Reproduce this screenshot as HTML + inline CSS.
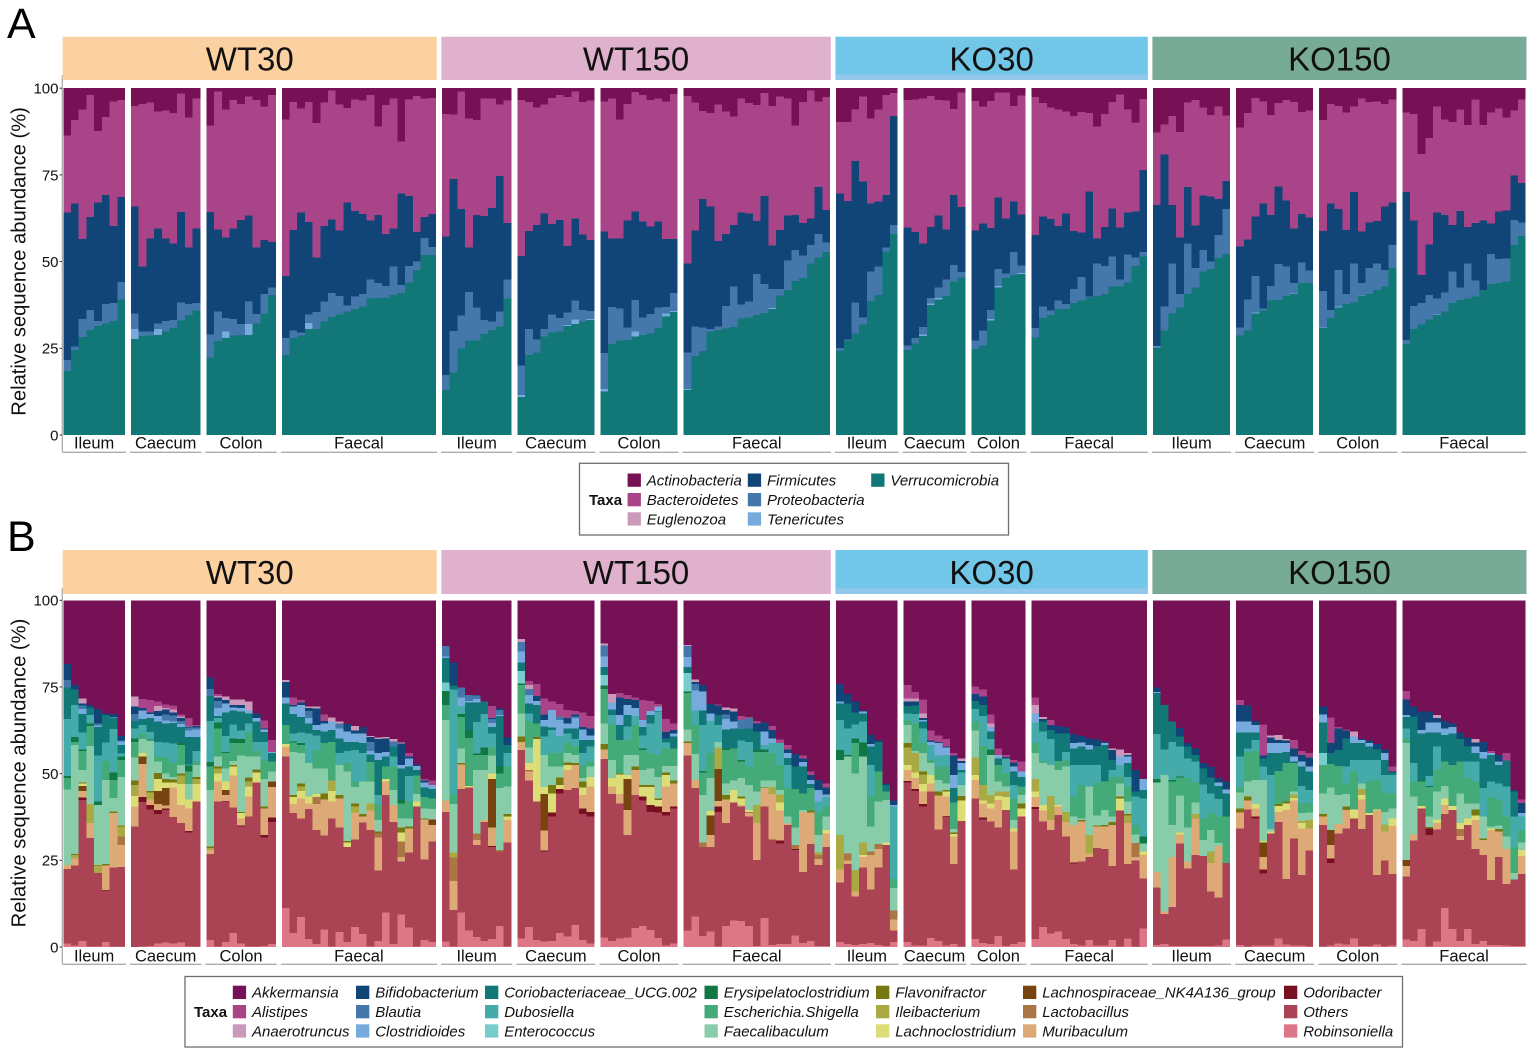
<!DOCTYPE html>
<html lang="en">
<head>
<meta charset="utf-8">
<title>Relative sequence abundance by group and tissue</title>
<style>
html,body{margin:0;padding:0;background:#fff;}
svg{display:block;font-family:"Liberation Sans",Arial,sans-serif;}
</style>
</head>
<body>
<svg id="figure" xmlns="http://www.w3.org/2000/svg" width="1535" height="1055" viewBox="0 0 1535 1055"></svg>
<script>
/* ---------- categories and tick labels ---------- */
const conditionNames = ['WT30','WT150','KO30','KO150'];
const conditionColors = ['#FCD1A2','#E0B1CC','#72C6E8','#78AB95'];
const tissueNames = ['Ileum','Caecum','Colon','Faecal'];
const samplesPerFacet = [8,9,9,20, 9,10,10,19, 8,8,7,15, 10,10,10,16];
const yTickValues = [0,25,50,75,100];
const yTickLabels = ['0','25','50','75','100'];

/* Every series array holds, for each of the 178 samples left to right,
   the upper edge (%) of that taxon's stacked band; 0 means the taxon is absent.
   The topmost taxon of each panel fills the remainder up to 100 %. */

/* ---------- panel A: phyla ---------- */
const verrucomicrobiaA = [
18.4,24.5,28.3,30.3,31.5,32.1,32.9,39.1,
27.7,28.5,28.7,28.9,29.8,30.8,33,34.6,35.9,
22.3,27.1,27.9,28.7,28.8,28.8,32.2,34.9,40.4,
23.1,27.9,28.7,30.5,30.5,32.7,34,34.8,35.6,36.3,37,39.3,39.5,39.7,40.4,41,44,47.6,51.9,51.9,
13,18,24.9,27.3,27.3,29.1,30.3,31.3,39.4,
11,23.1,23.8,28.4,29.5,29.8,31.4,32,32.7,33.2,
12.5,26.3,27.2,27.4,28.4,28.8,29.3,30.8,34.1,35.4,
13,22.8,24.2,29.8,30.3,30.7,31.1,33.6,33.9,34.6,35.2,36.3,40.2,41.8,44.4,45.2,49.5,51.2,52.8,
24.2,27.2,29.3,31.9,38.7,40.4,52.9,58,
24.5,26.4,28.6,37.5,39.1,40.1,44.2,45.4,
24.8,25.8,33,42.6,45.2,46.2,46.4,
28.1,33.7,34.6,36.3,36.3,38,38.8,39.6,40.1,40.7,42.8,42.8,44,48.8,51.4,
25.3,30.1,35.1,36.7,40.6,42.5,47.1,47.8,51,52.2,
28.7,30.1,35.1,35.9,38.8,38.9,40.1,40.6,43.8,43.9,
30.8,33.7,36.7,37.8,38.2,40.2,40.7,41.8,42.8,48.1,
26.2,30.6,31.9,33.3,34.6,35.6,38,38.9,39.4,39.9,41.8,43.6,43.9,44.2,54.8,57.4];
const tenericutesA = [
0,0,0,0,0,0,0,0,
30.6,0,0,30.5,0,0,0,0,0,
0,0,29.9,0,0,32,0,0,0,
0,0,0,32.3,0,0,0,0,0,0,0,0,0,0,0,0,0,0,0,0,
0,0,0,0,0,0,0,0,0,
11.5,0,0,0,0,0,31.7,33.3,0,33.5,
13.2,0,0,0,29.8,0,0,0,35.1,35.8,
13.3,0,0,0,0,0,0,0,0,0,0,36.6,0,0,0,0,0,0,0,
0,0,0,0,0,0,0,0,
0,0,29,37.9,39.5,0,0,0,
0,0,33.5,43,0,0,46.7,
0,0,0,0,0,0,0,0,0,0,0,0,0,0,0,
25.5,0,0,0,0,0,0,0,0,0,
0,0,35.3,0,0,0,0,40.8,0,0,
31,0,37,0,0,40.4,0,0,0,0,
0,0,0,0,34.8,0,0,0,0,0,0,0,0,0,0,0];
const proteobacteriaA = [
21.6,25.5,33.5,36,32.8,37.8,38,44.1,
35.1,29.8,29.8,32.2,32.9,33.2,38.2,37.8,38,
29,35.6,33.7,33.4,32,38.5,34.9,40.7,42.6,
27.9,30.1,29.6,34.8,35.4,38.5,40.9,40.1,37.3,39.9,40.7,44.9,43.9,43,48.6,43.3,48.8,50,56.8,54.2,
17.3,30,34.4,41.3,36.7,33.2,32.7,35.6,44.9,
20.1,30.6,27.6,30.5,34.8,33.7,35.3,38.8,36.1,35.8,
23.7,36.9,36.5,31,38.9,33.9,34.9,36.8,36.9,40.9,
23.8,31.3,31,30.5,31.3,37.2,42.8,37.6,38.5,46.4,43.6,42.1,42.1,50.3,53.4,51.8,54.8,57.9,55.5,
25.1,27.6,38.2,33.9,47.1,48.6,54,60.6,
25.8,27.9,31.2,39.5,42.6,44.9,49,47,
27.2,30.2,36,47.8,46.6,52.7,48.9,
30.8,37,35.9,38.8,37.8,42.1,45.5,39.9,49.5,48.8,51.4,44.9,52.1,51.2,52.7,
25.7,37,49.5,40.7,55.2,48.2,53.4,50,57.7,65.1,
31,39,45.9,36.5,43,49.3,48.6,43.8,49.8,47.4,
41.5,36.1,47.6,40.7,49.5,43.8,48.1,49.5,47.6,54.8,
27.4,37.2,38,40.4,39.4,41.1,47.1,42.6,49.5,44.5,41.8,52.2,50.7,50.9,62,61.3];
const firmicutesA = [
64.1,66.7,56.5,62.9,67,69.2,60.3,68.6,
65.9,48.6,56.7,59.6,56.7,55.2,64.3,54.1,59.5,
64.3,59.3,57,59.5,62,63.3,54.1,56.3,55.6,
45.9,59.1,64.1,61.4,51.2,60.3,62.2,58.9,67.1,64.6,63.7,61.8,63.4,58,59.5,69.7,68.9,58.6,62.9,63.7,
57.2,73.8,65.2,54.1,63.5,63.1,65.5,74.7,61.1,
51.6,58.8,60.6,63.9,60.9,62,54.5,62.4,57.8,56.3,
58.7,56.7,56.7,61.8,64.5,61.5,60.1,61.5,56.5,56.5,
49.5,58.9,68.1,65.9,55.9,57.9,60.6,64.1,63.9,61.7,68.9,54.7,59.1,63.3,63.5,61.1,62.4,71.5,64.9,
69.7,67.5,79,73.1,66.8,67.3,69.2,92,
59.8,58.5,55.2,60,63.3,59.2,69.2,65.8,
59,61,59.7,68.5,62.4,67.4,63.6,
57.6,63,62.3,60.2,63.9,58.8,58.4,70.2,56.6,60,65.3,59.8,64.2,64.5,76.4,
66.3,80.9,66.3,56.9,71.5,60.4,69,68.8,68,73.2,
54.3,56.4,63,66.8,63.5,71.7,67.6,59.5,63.7,62.7,
58.8,66.8,65.2,59.1,70.1,58.7,61.3,61.7,65.9,67,
70,61.8,46.2,55,64.1,63.5,60.5,64.6,60,61.1,61.9,61,64.5,64.8,74.8,72.6];
const euglenozoaA = [];
const bacteroidetesA = [
86.3,90.9,93.8,98,87.7,91.7,96.2,96.6,
94.9,95.4,95.9,93.3,93.6,92.8,98.5,91.6,97,
89.2,99,93.9,96.6,95.4,97.6,96.6,94.7,98,
91,96,94.1,96,89.9,95.9,99.3,95.3,94.3,96.8,96.4,98,88.9,95.1,97,84.6,96.8,97.8,97,97.2,
92.6,92.4,99,91.3,90.9,97.1,97.1,95.3,96.4,
96.6,96,94.5,95.3,97.2,98.1,97.4,99.1,96,96.4,
96.2,97.1,91,95.4,98.9,98.1,96.6,97.1,96.2,98.3,
97.8,95.9,93.4,92.8,95.3,93.3,91.8,97,95.7,95.2,98.6,94.9,97.6,97.1,89.2,96,99.3,96.2,97.4,
90.2,90.2,93.8,97.6,91.3,93.8,98.1,98.6,
96.6,96.8,97.1,97.8,96.6,96.4,94,98.8,
96.3,94.7,96.3,98.7,98.7,94.9,97.9,
97.4,95.7,94.5,93.9,93.3,92,93.2,92.8,88.9,92.6,96,98.2,93.9,90.1,96.9,
87.2,89.6,92,87.4,95.9,96.6,94.5,92.3,94.7,92.2,
88.6,92.8,97.2,96.1,92.3,95.7,96.6,96,93.1,93.5,
90.9,95.4,94.9,93,94.7,97.1,96,96.2,95.4,96.8,
93,92.5,81,85.6,94.7,91,90.2,93.9,89.4,96.8,89.4,93,94.2,91.5,93.6,96.8];

/* ---------- panel B: genera ---------- */
const robinsoniella = [
1,.5,1.8,.1,.1,1.5,.1,.1,
0,.1,.3,1,1.3,1,1.3,.2,.1,
2,.1,1.4,4,1,.1,.1,.3,.8,
11.2,4.1,8.6,2.3,.9,5.1,.1,4.3,1.5,5.8,3.7,.1,1.7,10,.9,9.4,5.6,.1,2,1.5,
1.6,.1,10,4.8,2.9,1.8,2.3,6.1,.1,
2.5,5.8,2,1.6,1.8,4,3,6.3,2,1,
2.8,1.8,2.5,2.7,5.5,6,4.9,2.6,.4,1,
4.8,8.8,3.2,4.5,.2,6,7.6,7.5,6,.3,8.4,.6,.8,.8,3.3,1.2,1.8,.3,.3,
1.5,.8,.6,.9,1.2,.6,.3,1.5,
1.5,.4,.4,2.6,1.7,.4,.8,.1,
2.3,1.2,.8,3.2,.3,.8,1.5,
2.3,5.8,3.9,4.4,2.3,.8,.4,2,.5,.5,2,.2,2.4,.2,5.4,
.6,.8,.3,.3,.3,.3,.3,.3,.5,2.2,
.6,.2,.5,.5,.5,2.4,.7,.4,.4,.2,
.1,.5,1,.7,2.4,.3,.3,.7,.1,.5,
2.1,1.7,5.2,.1,1.6,11.2,5.2,1.8,5.2,.9,1.8,.6,.6,.4,.3,.3];
const others = [
22.5,23.5,42.4,31.5,21.3,16.3,23,23.1,
34.7,41.8,39.7,38.4,39.5,37.5,35.7,33,42,
26.8,41.9,41.9,40.2,34.8,37.6,47.5,31.6,36,
54.9,38.6,37.1,39.8,33.7,32.1,37.1,34.5,28.8,31,35.9,33.8,22,43.8,36,24.6,27.2,40.5,25.3,30.4,
39,10.7,45.6,46,29.4,36,28.9,27.5,30.2,
56.8,48,41.9,27.5,37.6,44.3,45.3,45.8,38.4,37.6,
54.2,44.1,41.4,32.3,43.8,42.2,39,38.8,37.9,40,
55.2,45.8,28.8,28.8,39,35.7,41.7,40.5,37.6,25.1,40.5,31,29.9,35.2,28,21.7,29.7,23.7,28.9,
18.6,23.9,14.5,22.9,16.6,22.9,29.4,4.7,
47.4,45,40.5,44.8,33.9,37.6,23.9,36.4,
42.9,36.8,36.2,34.5,39.5,22.4,37.6,
39.8,36.2,33.8,38.1,31.8,24.1,24.6,26,28.5,28.2,23.4,39.3,23.9,25,19.8,
17.1,9.5,11.6,29.9,22.7,26.5,26.3,16,14.3,24.3,
34.2,39.7,37.1,21.2,32.8,36,19.6,31.3,20.8,27.8,
35.2,24.3,32.8,34.2,37.1,34,38.1,20.8,24.9,21,
20.3,30.7,40,32.3,33.9,38.4,39.5,30.9,35.2,28.2,26.5,19.3,26,18.2,19.5,21];
const odoribacter = [
0,0,43.1,0,0,16.5,0,0,
0,43.3,41,39.5,40,0,0,33.4,0,
0,0,42.1,0,35,0,0,32.3,37.3,
0,0,0,0,0,0,0,0,0,0,0,0,0,0,0,0,0,0,0,0,
0,0,0,0,0,0,29.2,0,0,
0,0,0,27.8,38.8,45.6,0,0,40,39,
0,0,0,0,0,43.4,41,40.5,39,40.5,
0,0,0,0,40.5,0,0,0,0,0,0,0,30.7,0,28.2,0,0,0,0,
0,0,0,0,0,0,0,0,
47.9,45.6,41.3,0,0,37.8,0,0,
0,37.4,0,0,0,0,0,
40.4,0,0,0,0,24.4,0,0,0,0,0,0,0,0,0,
0,0,0,0,0,0,0,0,0,0,
0,0,37.6,22.4,0,0,0,0,0,0,
0,25.5,0,0,0,0,0,0,0,0,
0,0,0,34.2,0,0,0,0,0,0,0,0,0,0,0,0];
const muribaculum = [
23.7,25.5,45,35.7,0,23.5,38.6,29.4,
40.5,52.8,42.6,41.2,40.8,46,41,40,0,
28,47.7,43.8,49.5,37.1,43.4,0,40,46.2,
57.7,41.3,42.9,41.4,41.3,42.6,41.9,42.9,0,38.8,37.6,39.3,31.6,47.7,41,26,34.2,0,36.8,35.2,
42.2,19.1,52.7,0,30.9,36.6,34.5,0,36.6,
59.2,50.6,0,33.6,0,0,51,52.5,43.8,46.3,
57,46.3,44.1,39.5,51,0,0,0,46.3,47.2,
58.9,48.2,0,32.3,42.1,42.6,0,41,38.6,35.7,45.8,44.1,39.3,35.6,0,39,38.8,25.4,32.8,
22.4,25,16,26,26.5,28.2,0,8,
51,48.7,44.8,47.2,43.7,43.4,31.8,0,
48.2,41.4,40,42.4,0,33.3,0,
43.2,39.3,36.6,40.5,36,35.2,36.2,27,34.7,34.7,35.2,0,35.7,26,26.5,
21.7,10.2,26,32.5,24.6,37.1,0,24.3,29.1,0,
38.8,42.2,40,26,0,39,39.5,42.2,34.2,34.2,
37.6,29.4,35.5,39.5,0,42.6,0,39.3,33.3,34.9,
23.4,32.5,0,0,35.7,41,0,32,0,36.6,30.9,33.7,33.3,28.3,0,26.3];
const lactobacillus = [
0,0,0,0,0,0,0,31.8,
0,0,0,0,0,0,0,0,0,
0,0,0,0,0,0,0,0,0,
0,0,0,0,43.2,0,0,0,0,0,0,0,32.8,0,0,30.4,0,0,0,0,
0,25.8,0,0,32.8,0,0,28,0,
0,51,0,0,0,0,0,0,0,0,
0,0,0,0,0,0,0,0,0,0,
0,0,30.1,0,0,0,0,0,39,0,0,0,0,0,29.4,0,0,26.5,0,
0,27,0,0,27.5,29.7,0,10.5,
0,0,0,0,0,0,0,0,
0,0,0,0,0,0,0,
0,0,0,0,0,0,0,0,0,0,0,0,0,30,0,
0,0,0,0,0,0,0,0,0,0,
0,0,0,0,0,0,0,0,0,0,
0,0,0,0,0,0,0,0,0,0,
0,0,0,0,0,0,0,34.1,0,0,0,0,0,0,0,0];
const lachnospiraceae = [
0,0,46.5,0,0,0,0,0,
0,54.9,0,45,45.8,0,0,0,0,
0,0,45.3,0,0,0,0,0,47.7,
0,0,0,0,0,0,0,0,0,0,0,0,0,0,0,0,0,0,0,36.8,
0,0,0,0,0,0,48.5,0,0,
0,0,0,44.1,0,0,0,0,0,0,
0,0,0,48.5,0,0,0,0,0,0,
0,0,0,37.9,51.3,0,0,0,0,0,0,0,0,0,0,0,0,0,0,
0,0,0,0,0,0,0,0,
0,0,0,0,0,0,0,0,
0,0,0,0,0,0,0,
0,0,0,0,0,0,0,0,0,0,0,0,0,0,0,
0,0,0,0,0,0,0,0,0,0,
0,0,0,30.2,0,0,0,0,0,0,
0,33.7,0,0,0,0,0,0,0,0,
25.1,0,0,0,0,0,0,0,0,0,0,0,0,0,0,0];
const lachnoclostridium = [
0,0,47.2,0,0,0,0,0,
43.6,55.9,0,48.5,47.4,47.5,47,42.6,47,
0,50,47.7,52,38.6,46.3,50.4,0,0,
58.6,43.2,45,43.4,44.1,0,45,0,30.1,0,0,0,0,48.5,0,33,0,41.9,0,0,
0,0,0,46.5,0,0,50.1,0,37.6,
0,53,60,46.2,44.3,46.7,52.5,0,46,49.1,
0,48.7,49.8,49.6,0,46.2,46.2,42.4,49.6,0,
0,0,0,39.2,0,0,45.3,42.9,39.5,0,0,0,41.7,0,0,0,0,0,33.7,
0,0,0,26.5,0,0,30.2,0,
52.5,50.3,47,49.6,0,44.8,32.6,42.2,
49.6,42.2,41.4,43.6,43.2,34.2,40,
44.8,41,0,41,0,0,0,0,0,0,0,42.9,0,0,27.5,
0,0,0,33,0,0,0,0,0,0,
0,0,41.3,30.6,33.3,40.7,41.4,43,35.7,0,
0,0,0,0,39.7,43.8,38.6,39.7,0,37.1,
0,0,40.7,0,36.8,42.9,40.7,35.7,37.1,38,0,34.2,0,0,0,28];
const ileibacterium = [
0,26.5,0,41.3,23.5,0,0,34.7,
46.7,0,44.5,0,0,0,49.5,0,48.5,
28.6,51.5,0,0,0,47.7,0,0,0,
0,0,46.3,0,0,0,48,0,0,40.5,0,41.4,0,0,0,0,0,0,0,0,
0,27.2,0,0,0,0,0,0,0,
0,0,0,0,0,0,0,0,0,0,
0,0,0,0,0,0,0,0,0,0,
0,0,0,0,57.6,0,0,0,0,41,0,46.2,44,0,0,0,0,27.2,0,
32.3,0,22.2,30.2,0,0,0,0,
57.5,55.9,49.8,0,0,0,0,0,
54.7,46.7,43.8,44.8,44.8,0,0,
48.4,0,43.6,0,39,0,0,32.3,0,0,0,0,38,0,0,
0,0,0,0,0,38.4,0,27.5,0,0,
0,0,0,0,0,0,0,44,36.4,36.6,
0,0,0,0,0,45.6,0,0,35.4,0,
0,0,0,0,0,0,0,0,0,0,0,0,0,0,0,0];
const flavonifractor = [
0,26.8,47.5,0,23.7,24,39.1,35,
48,0,45,50.2,48.5,48.3,50,0,49,
29,52,0,52.5,39,48.9,51.2,40.5,0,
0,43.8,47.2,0,0,44.3,0,43.8,30.6,41.4,38.4,0,33.3,0,0,34.5,34.7,0,37,0,
0,0,53,0,0,0,0,0,38.4,
60.7,0,60.5,0,46.7,48.9,53.2,53,47.7,0,
58.5,0,50,0,52,46.7,46.7,42.9,50.4,48,
59.3,0,0,0,0,43.8,0,43.4,0,0,46,0,0,0,0,0,39.4,0,0,
0,0,0,0,0,0,0,0,
58.8,0,50.6,0,44.8,45.3,33,43.6,
0,0,0,0,0,0,41.4,
0,0,0,0,0,0,36.7,0,35,35.2,36,43.4,38.4,0,0,
0,0,0,0,0,0,0,0,0,0,
40,43.4,0,0,0,41.3,42,0,0,0,
38.4,0,0,40.5,0,0,0,0,0,0,
0,0,0,34.6,0,0,0,0,0,39.6,31.3,0,34,0,0,0];
const faecalibaculum = [
45.5,58.3,51,58,41,48.2,43,49.1,
54.7,60,59.5,53.5,50,49,52.5,47,52.5,
45.3,54.9,51.5,53.7,55.2,54.9,54.9,48.4,50.6,
0,56.2,55.9,53,51.5,51.5,0,52.5,50.6,46.2,47.7,47.7,36.6,0,45.3,37.1,37.1,44.1,40,39.8,
65.5,41.3,57.3,0,51,51,55.2,45.8,46.3,
67.4,57.6,0,55.4,52,52,55.9,55.4,48.7,52,
64.5,54,0,55.4,55.4,51,51.5,49.1,52.2,52.2,
62.8,55.7,43.8,48.7,59.2,47.2,48,48.7,46.7,44.8,48,48,45.3,37.6,34.5,39.5,0,32.3,37.6,
53.9,54.9,50.1,54.9,34.8,41.9,42.4,17,
64,56.6,56,53,48.2,47.2,34,46.7,
62.4,0,55.4,47.7,46.3,36.6,43.8,
55.9,53,52.5,51,52,37.6,37.1,46.3,38,39.5,37.6,47.2,41.9,32.5,29.9,
47.4,49.6,35.2,43.7,34.5,41.7,30.9,33.8,30,0,
44.6,47.7,48.2,48.2,34,0,0,44.8,38.6,38.8,
44.3,46,43.8,44.1,0,47.2,0,0,39,40,
58.9,43.4,0,37.6,44.8,46.4,0,44.3,41.4,41.4,37.6,34.7,35,31.8,21.4,30.2];
const escherichia = [
48.7,59.2,56.6,63.8,0,53.7,48.2,53.9,
59.2,61.4,0,55,54.7,53,58.3,50.6,53.5,
52,63,55.9,58.8,58.8,61.8,56.5,53.9,53.5,
64.1,59,58.3,0,56.8,58.8,59.2,0,53,47.7,0,53.3,41,52,52,41.4,41.9,49.4,43.2,42.9,
69.8,43.8,66.3,60.3,55.4,55.4,57.6,50.1,52,
75.6,65,64.5,0,55.9,55.9,58.9,58,52.5,53.5,
74.4,64.2,59.7,59.5,64,56.8,55.9,55.4,57.3,57.3,
73.2,64,50.4,55.9,0,56.8,57.3,53.5,52,56.3,56.3,55.9,52.5,45.8,45.6,44.3,45.8,39,40.5,
0,0,58.8,0,43.6,50.6,44.8,19.6,
65.3,64.5,58.8,54,52,52,41.7,0,
65,58,0,52.5,50.1,42.9,46.3,
58.8,53.5,0,53.7,53.8,43.4,46.7,0,47.4,47.7,49.1,49.1,46.3,35.2,0,
0,0,47.7,48.9,48.7,47.4,37.1,38.6,37.6,37.6,
46.2,56.3,56.6,0,0,50.8,53,53,41.4,41.6,
52.5,52.8,52.2,47.2,50.6,0,47.7,48.2,44.5,44.3,
60.2,47.7,47.7,46.2,51,53.5,52.5,53.5,48.7,47.7,0,43.2,42.4,37.6,28.9,33.8];
const erysipelatoclostridium = [
49.3,60.6,57,64.5,41.9,0,50.3,55,
60.2,0,59.9,0,0,0,58.8,52.3,0,
53.4,64.8,56.2,60.2,60,0,0,0,0,
0,59.3,58.8,0,0,0,0,0,0,0,0,0,0,0,0,42.5,0,0,0,0,
73.8,0,67.2,62.5,55.8,57.6,0,52,0,
76,0,0,0,0,0,0,0,0,0,
75.4,0,0,0,0,57.3,0,0,0,0,
73.7,0,50.8,0,0,57.3,0,54,0,57,57,0,0,0,0,0,0,0,0,
56.8,55.4,60.2,59,0,0,0,0,
0,0,0,0,0,0,0,0,
0,0,57,0,0,0,0,
0,0,0,0,0,0,0,0,0,0,0,0,0,0,31.8,
48.4,0,48.2,49.2,0,0,0,0,0,38,
0,0,0,0,0,0,0,0,0,0,
0,0,0,0,0,0,0,0,0,0,
0,0,48.2,46.4,0,0,0,0,0,0,0,0,0,0,0,0];
const enterococcus = [
0,0,0,0,0,0,0,0,
0,0,0,0,0,0,0,0,0,
0,0,0,0,0,0,0,0,0,
0,0,0,0,0,0,0,0,0,0,0,0,0,0,0,0,0,0,0,0,
76.3,0,0,0,0,0,0,0,0,
79.6,0,0,0,0,0,0,0,0,0,
78.5,0,0,0,0,0,0,0,0,0,
79,0,0,0,0,0,0,0,0,0,0,0,0,0,0,0,0,0,0,
0,0,0,0,0,0,0,0,
0,0,0,0,0,0,0,0,
0,0,0,0,0,0,0,
0,0,0,0,0,0,0,0,0,0,0,0,0,0,0,
0,0,0,0,0,0,0,0,0,0,
0,0,0,0,0,0,0,0,0,0,
55.9,0,0,0,0,0,0,0,0,0,
0,0,0,0,0,0,0,0,0,0,0,0,0,0,0,0];
const dubosiella = [
65.7,69.8,61.8,66.9,55.2,59,62.9,55.8,
63,64,62,59.2,59,58.7,58.9,52.6,56.6,
65.2,66,60.9,64.2,62.4,64.5,59.2,59.2,0,
0,61.6,61.8,61.6,61,0,0,55.9,56.5,56.8,56,0,43.8,0,55,0,49.3,0,0,0,
0,74.3,69.5,0,64.9,67.2,61.6,0,55.9,
0,67.4,0,60.7,62.6,60.9,61.6,60,55.9,57.8,
0,66.9,0,63.6,66.6,61,64.5,67.9,59,0,
0,68.2,64,65.2,64,0,0,59.5,59.2,0,58.3,58.8,58.9,52.5,0,0,0,41.9,43.2,
65.5,63,64.2,65,52.5,0,0,40.5,
67.4,67.2,63,58.3,55.2,55.4,0,50.3,
68.6,66.6,60,0,54.4,46.7,0,
64.7,62.1,60,0,56.3,52.5,52.5,52.5,52.5,0,51,52.5,49.1,43.4,42.9,
61.4,57,59.2,57.8,54.4,53.5,46.9,44.3,42.7,0,
54.9,57.3,59.7,52,49.6,0,0,0,46.4,45.3,
0,0,0,52,53.9,53.9,53.9,53.9,49.6,49.6,
63,53,0,49.3,57.8,0,0,0,53.5,53.5,45.8,47.7,47.2,46.3,37.6,37.6];
const coriobacteriaceae = [
74.8,74.3,67.2,69.1,63.4,66.9,66.2,58.3,
65.2,65.7,66,65,64.5,64.6,63.4,60.5,60.5,
72.4,66.6,67.6,68.2,67.9,67.4,65,62,55.9,
70.2,67.2,66.4,64.5,62.6,62.1,62.6,60.2,59.2,59.2,58.8,55.5,53.9,54.9,57.8,51.5,52,51,46,45.6,
83.3,75.4,0,70.5,70.5,70.8,63.4,66.6,58.3,
82,70.3,69.8,63.6,63.3,0,63,63,59.7,59.7,
80.7,68.5,64,66.9,0,63.4,66.9,68,60.2,60.7,
80.7,0,68.2,0,66.9,62.8,63,62.9,63,62.1,0,0,0,54.5,52,52,47,0,0,
70.3,70.3,67.6,67.4,57.8,59.2,46.7,0,
69.5,69.6,65,0,0,0,45.8,51,
71,69.8,62.2,54.4,0,50.6,49.1,
0,65,62.6,61.6,61.6,57.3,57.8,57,58,58.3,53.9,0,53,44.8,45.3,
73.2,69.8,65,60.7,57.8,55.4,51.5,48.9,46.5,44.3,
61.9,61.9,61.8,54.3,55.9,55.9,56.3,53.5,52,50.6,
64.8,56,56.8,60.2,58.8,58.8,57.8,57,53.9,50.3,
66.4,66.5,61.6,61.8,61.8,61.2,61.6,60,57.8,55.9,54.4,55.4,52.5,53.8,44.8,0];
const clostridioides = [
0,0,68.7,0,63.9,0,66.4,59.3,
65.2,68.2,67.2,66.6,65.4,65,64.3,62.5,62.8,
0,69,70.3,69.1,69,68.2,66,62.8,56.2,
72,69.3,69.8,66,64,64.5,65,63,62.1,61.6,61.6,56.6,55.9,56.3,0,52.5,54.4,52.2,47.4,46.7,
83.8,0,72,71,71.5,0,64.6,66.9,0,
85.2,72.7,71,65.5,68.4,65.5,64.5,66,62.8,61,
83.8,70.5,66.9,69.8,69,65.5,68,69.3,0,61.6,
83.6,74,73.7,67.4,0,65.7,65,0,0,0,62.1,60.2,0,56,0,53.3,48.2,45.3,44,
70.8,0,0,67.9,58.5,0,0,41,
0,0,65.5,59.2,58.8,57.6,49.6,53,
0,0,63.5,55.4,0,52,50.6,
67.4,0,0,0,0,58.8,59,58.2,0,58.8,0,54.9,54.9,0,48.5,
73.6,0,0,0,0,0,0,0,47.5,45.5,
65,65,64,0,58.8,58.8,58.8,54.9,53.5,52,
67,0,0,0,60.7,59.7,58.8,0,55.9,0,
66.9,0,62.6,64.7,64.7,63,63.4,0,0,57.8,56.3,55.9,53.5,0,0,38.6];
const blautia = [
77,0,69.7,0,64.4,0,0,59.6,
67.2,0,0,0,67,66.8,65.2,63.3,63.3,
74.4,71,0,0,0,0,0,0,0,
0,0,0,68,0,0,0,64.5,0,0,0,59.2,0,0,59.3,0,0,0,0,0,
86.8,0,74.9,72.7,72.5,0,65.7,68.4,0,
88,74.4,0,0,0,66.5,0,66.5,0,0,
87,0,0,0,0,0,0,0,0,0,
86.8,75.8,0,0,0,67,0,65.5,66,0,0,0,0,0,0,0,0,0,0,
0,0,0,0,0,0,0,0,
0,0,0,0,0,0,0,0,
0,0,0,0,0,0,0,
0,0,0,0,0,0,0,0,0,0,0,0,0,0,0,
0,0,0,0,0,0,0,0,0,0,
0,0,0,0,0,0,0,0,0,0,
0,0,0,0,0,0,0,0,0,0,
0,0,0,0,0,0,0,0,0,0,0,0,0,0,0,0];
const bifidobacterium = [
81.6,75.6,70.2,69.8,68.6,67.4,67.2,60.9,
69.3,69,67.7,68,68.5,67.7,66,63.6,63.8,
77.7,72,71.2,69.8,69.8,0,67.4,63,0,
76.5,69.8,70.5,69,68.8,65.2,0,0,64.3,62.4,63.4,60.5,60,60.2,0,58.7,54.9,52.6,48,0,
0,82,0,0,72.7,0,66,68.8,60.4,
0,0,72.4,67.1,0,0,66,67,63.5,63,
0,0,71.9,71.5,71.2,0,0,0,62,62.6,
0,76.5,75.6,70.1,69.6,68.4,67.9,0,0,64.5,64.7,62.6,0,57,55.7,54.4,49.6,48.2,46,
75.8,73,70.8,68.2,61.2,59.7,47.2,42.2,
70.8,70.8,66,59.5,59.2,57.9,55.2,53.6,
73,72.2,0,0,54.8,53.2,0,
0,65.8,64,63.8,63.5,61.4,60.9,60.2,59.9,59.2,56.8,0,55.4,51,0,
74.8,69.8,65,63.1,58.8,57.3,53,52,48.7,47.7,
69.8,69.6,65.2,55.2,60.4,59.7,59.5,57.3,55.4,54.7,
69.3,58.8,63,62.4,0,60,59.5,58.6,57,50.6,
71.4,69.3,67.9,67.9,66,65.2,64.5,61.8,60.4,59,59.2,0,55.4,0,45.3,41.6];
const anaerotruncus = [
0,0,71.7,0,0,0,0,0,
72.2,0,0,69.5,69,68.5,66.5,63.8,0,
0,72.4,72.2,71.4,71.4,70.8,0,0,0,
77,0,0,69.3,69.3,0,66.2,65,0,63.7,0,60.8,60.4,60.6,60,59,0,0,0,0,
0,0,0,0,0,0,0,0,0,
88.8,75.5,0,0,0,0,0,0,0,0,
87.6,73,0,0,0,0,0,0,0,0,
87.1,77.2,0,0,0,69.1,68.8,0,0,0,0,0,0,0,0,0,0,0,0,
0,0,0,0,0,0,0,0,
71.7,71.7,67.4,0,0,0,0,54.4,
0,0,64.5,0,0,0,0,
69.8,66.3,0,0,0,0,0,0,0,0,57.3,57,55.9,0,0,
0,0,0,0,0,0,0,0,0,0,
0,0,0,0,61,61.2,60,0,0,0,
0,0,0,0,62.1,0,0,0,0,0,
0,0,0,0,66.9,0,0,0,0,60,0,0,0,0,0,0];
const alistipes = [
0,0,0,0,0,0,0,0,
0,71.5,71.3,70.8,70,69.6,67,66,64,
0,73,0,0,0,0,0,65.3,59.7,
0,72,71.3,0,0,67.1,0,0,0,0,0,0,0,0,0,0,55.9,0,48.4,48,
0,0,0,0,0,0,69.5,0,0,
0,76.7,75.9,71.7,70.8,70.1,68.4,68,67.7,66.7,
0,0,73.2,72.7,72,71.2,71,70.1,65.7,64.5,
0,0,0,0,69.9,0,0,66.6,66.3,65.2,0,63.7,59.9,58.3,0,55.2,50.6,0,47.2,
0,0,0,0,0,0,0,0,
75.6,73.5,71.4,62.4,61,60,55.9,0,
75.1,74.3,67,57.3,55.4,53.9,53.5,
72,0,65.5,0,0,0,0,0,0,0,0,0,0,0,0,
0,0,0,0,0,0,0,0,0,0,
71.2,0,0,64.2,0,0,0,59.7,56.5,56,
0,66.2,63.4,62.8,0,0,0,0,0,52,
73.8,0,0,0,0,0,0,0,0,0,0,56.5,0,55.9,0,42.6];

/* ---------- legend names ---------- */
const phylumNames = ['Verrucomicrobia','Tenericutes','Proteobacteria','Firmicutes','Euglenozoa','Bacteroidetes','Actinobacteria'];
const genusNames = ['Robinsoniella','Others','Odoribacter','Muribaculum','Lactobacillus','Lachnospiraceae_NK4A136_group','Lachnoclostridium','Ileibacterium','Flavonifractor','Faecalibaculum','Escherichia.Shigella','Erysipelatoclostridium','Enterococcus','Dubosiella','Coriobacteriaceae_UCG.002','Clostridioides','Blautia','Bifidobacterium','Anaerotruncus','Alistipes','Akkermansia'];

/* ---------- styling ---------- */
const palette = {
  Akkermansia:'#771155',Alistipes:'#AA4488',Anaerotruncus:'#CC99BB',Bifidobacterium:'#114477',Blautia:'#4477AA',Clostridioides:'#77AADD',
  'Coriobacteriaceae_UCG.002':'#117777',Dubosiella:'#44AAAA',Enterococcus:'#77CCCC',Erysipelatoclostridium:'#117744','Escherichia.Shigella':'#44AA77',Faecalibaculum:'#88CCAA',
  Flavonifractor:'#777711',Ileibacterium:'#AAAA44',Lachnoclostridium:'#DDDD77',Lachnospiraceae_NK4A136_group:'#774411',Lactobacillus:'#AA7744',Muribaculum:'#DDAA77',
  Odoribacter:'#771122',Others:'#AA4455',Robinsoniella:'#DD7788',
  Actinobacteria:'#771155',Bacteroidetes:'#AA4488',Euglenozoa:'#CC99BB',Firmicutes:'#114477',Proteobacteria:'#4477AA',Tenericutes:'#77AADD',Verrucomicrobia:'#117777'
};
const svg = document.getElementById('figure');
const NS = 'http://www.w3.org/2000/svg';
function make(tag, attrs, parent, text){
  const el = document.createElementNS(NS, tag);
  for(const k in attrs){ el.setAttribute(k, attrs[k]); }
  if(text !== undefined){ el.textContent = text; }
  (parent || svg).appendChild(el);
  return el;
}
function slug(s){ return s.toLowerCase().replace(/[^a-z0-9]+/g,'-'); }

/* ---------- layout and scales ---------- */
const plotLeft = 63.3, barWidth = 7.71, facetGap = 6;
const facetsPerCondition = tissueNames.length;
function bandX(sampleIndex, facetIndex){ return plotLeft + sampleIndex * barWidth + facetIndex * facetGap; }
function yScale(panel, v){ return panel.y0 - (v / 100) * (panel.y0 - panel.y100); }

const panels = [
  {key:'a', letter:'A', letterY:38, y0:435, y100:88.2, stripTop:36.7, stripBottom:80, stripBase:70.5, axisTop:75, bracketY:452.3, labelBase:448.5, titleY:261.4,
   stack:[[phylumNames[0],verrucomicrobiaA],[phylumNames[1],tenericutesA],[phylumNames[2],proteobacteriaA],[phylumNames[3],firmicutesA],[phylumNames[4],euglenozoaA],[phylumNames[5],bacteroidetesA]], rest:phylumNames[6]},
  {key:'b', letter:'B', letterY:551, y0:947, y100:600.3, stripTop:550, stripBottom:594, stripBase:584, axisTop:588, bracketY:964.3, labelBase:961.5, titleY:773,
   stack:[[genusNames[0],robinsoniella],[genusNames[1],others],[genusNames[2],odoribacter],[genusNames[3],muribaculum],[genusNames[4],lactobacillus],[genusNames[5],lachnospiraceae],[genusNames[6],lachnoclostridium],[genusNames[7],ileibacterium],[genusNames[8],flavonifractor],[genusNames[9],faecalibaculum],[genusNames[10],escherichia],[genusNames[11],erysipelatoclostridium],[genusNames[12],enterococcus],[genusNames[13],dubosiella],[genusNames[14],coriobacteriaceae],[genusNames[15],clostridioides],[genusNames[16],blautia],[genusNames[17],bifidobacterium],[genusNames[18],anaerotruncus],[genusNames[19],alistipes]], rest:genusNames[20]}
];

function drawPanel(panel){
  const root = make('g', {});
  
  

  const letter = make('text', {x:7, y:panel.letterY, 'font-size':43, fill:'#000'}, root, panel.letter);
  
  

  const title = make('text', {x:0, y:0, 'font-size':20.2, fill:'#111', 'text-anchor':'middle', transform:'translate(25.5 ' + panel.titleY + ') rotate(-90)'}, root, 'Relative sequence abundance (%)');
  
  

  const axis = make('line', {x1:62.3, x2:62.3, y1:panel.axisTop, y2:panel.bracketY, stroke:'#ababab', 'stroke-width':1.3}, root);
  
  

  yTickValues.forEach(function(v, t){
    const y = yScale(panel, v);
    const tick = make('line', {x1:59.6, x2:62, y1:y, y2:y, stroke:'#333', 'stroke-width':1}, root);
    
    
    const lab = make('text', {x:58.5, y:y + 5.4, 'font-size':15, 'text-anchor':'end', fill:'#111'}, root, yTickLabels[t]);
    
    
  });

  let sample = 0;
  samplesPerFacet.forEach(function(count, f){
    const cond = Math.floor(f / facetsPerCondition);
    const tissue = tissueNames[f % facetsPerCondition];
    const left = bandX(sample, f);
    const facet = make('g', {shapeRendering:'crispEdges'}, root);
    facet.setAttribute('shape-rendering', 'crispEdges');
    
    
    for(let n = 0; n < count; n++){
      const i = sample + n;
      const x = bandX(i, f);
      let running = 0;
      panel.stack.forEach(function(entry){
        const top = entry[1][i] || 0;
        if(top > running){
          const yTop = yScale(panel, top);
          const seg = make('rect', {x:x, y:yTop, width:barWidth, height:yScale(panel, running) - yTop, fill:palette[entry[0]]}, facet);
          
          
          running = top;
        }
      });
      const yFull = yScale(panel, 100);
      const restSeg = make('rect', {x:x, y:yFull, width:barWidth, height:yScale(panel, running) - yFull, fill:palette[panel.rest]}, facet);
      
      
    }
    const right = bandX(sample + count, f);
    const bracket = make('line', {x1:left - 1, x2:right + 1, y1:panel.bracketY, y2:panel.bracketY, stroke:'#ababab', 'stroke-width':1.3}, root);
    
    
    const label = make('text', {x:(left + right) / 2, y:panel.labelBase, 'font-size':16.5, 'text-anchor':'middle', fill:'#111'}, root, tissue);
    
    
    sample += count;
  });

  let firstSample = 0;
  conditionNames.forEach(function(name, c){
    const first = c * facetsPerCondition;
    let size = 0;
    for(let k = 0; k < facetsPerCondition; k++){ size += samplesPerFacet[first + k]; }
    const x1 = bandX(firstSample, first) - 0.6;
    const x2 = bandX(firstSample + size, first + facetsPerCondition - 1) + 0.8;
    const strip = make('rect', {x:x1, y:panel.stripTop, width:x2 - x1, height:panel.stripBottom - panel.stripTop, fill:conditionColors[c]}, root);
    
    
    if(name === 'KO30'){
      const band = make('rect', {x:x1, y:panel.stripBottom - 5.5, width:x2 - x1, height:5.5, fill:'#92C8EB'}, root);
      
      
    }
    const stripText = make('text', {x:(x1 + x2) / 2, y:panel.stripBase, 'font-size':33, 'text-anchor':'middle', fill:'#111'}, root, name);
    
    
    firstSample += size;
  });
}
panels.forEach(drawPanel);

/* ---------- legends ---------- */
function drawLegend(cfg){
  const g = make('g', {});
  
  
  const box = make('rect', {x:cfg.x, y:cfg.y, width:cfg.w, height:cfg.h, fill:'#fff', stroke:'#6e6e6e', 'stroke-width':1.3}, g);
  
  
  const head = make('text', {x:cfg.titleX, y:cfg.baselines[1], 'font-size':15, 'font-weight':'bold', fill:'#111'}, g, 'Taxa');
  
  
  cfg.columns.forEach(function(col, c){
    col.forEach(function(name, r){
      if(!name){ return; }
      const sw = make('rect', {x:cfg.swatchX[c], y:cfg.baselines[r] - 12, width:13.3, height:13.3, fill:palette[name]}, g);
      
      
      const tx = make('text', {x:cfg.swatchX[c] + 19.2, y:cfg.baselines[r], 'font-size':15, 'font-style':'italic', fill:'#111'}, g, name);
      
      
    });
  });
}
drawLegend({name:'legend-phyla', x:579.5, y:463.3, w:429, h:71.7, titleX:589, baselines:[485.5,505,524.3], swatchX:[627.6,747.8,871.2],
  columns:[['Actinobacteria','Bacteroidetes','Euglenozoa'],['Firmicutes','Proteobacteria','Tenericutes'],['Verrucomicrobia']]});
drawLegend({name:'legend-genera', x:185, y:976.5, w:1217.5, h:70.5, titleX:194, baselines:[997.7,1017,1036.3], swatchX:[232.8,356,485,704.5,876,1023,1284],
  columns:[['Akkermansia','Alistipes','Anaerotruncus'],['Bifidobacterium','Blautia','Clostridioides'],['Coriobacteriaceae_UCG.002','Dubosiella','Enterococcus'],['Erysipelatoclostridium','Escherichia.Shigella','Faecalibaculum'],['Flavonifractor','Ileibacterium','Lachnoclostridium'],['Lachnospiraceae_NK4A136_group','Lactobacillus','Muribaculum'],['Odoribacter','Others','Robinsoniella']]});
</script>
</body>
</html>
